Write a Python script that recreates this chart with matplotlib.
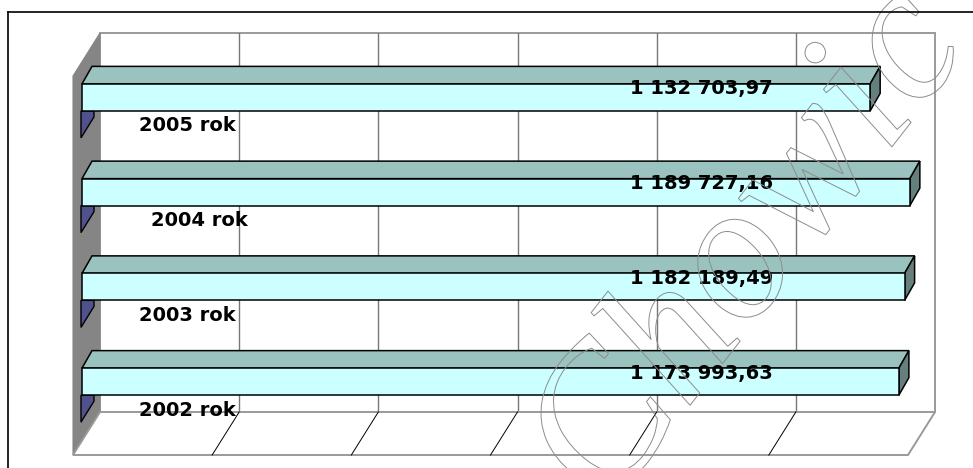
import matplotlib
matplotlib.use("Agg")
import matplotlib.pyplot as plt
import matplotlib.patheffects as pe
from matplotlib.patches import Polygon
from matplotlib.transforms import Affine2D, IdentityTransform
import numpy as np

# ---------------------------------------------------------------------------
# Data
# ---------------------------------------------------------------------------
years = ["2002 rok", "2003 rok", "2004 rok", "2005 rok"]
values = [1173993.63, 1182189.49, 1189727.16, 1132703.97]
value_labels = ["1 173 993,63", "1 182 189,49", "1 189 727,16", "1 132 703,97"]
axis_max = 1200000
axis_step = 200000

# ---------------------------------------------------------------------------
# Styling / pseudo-3D geometry (display pixels, y up)
# ---------------------------------------------------------------------------
W, H = 973, 468
WALL = np.array([-27.0, -43.0])     # back plane -> front of the floor/wall
FRONT = np.array([-18.0, -17.0])    # back plane -> front face of the bars
BACK = np.array([-8.0, 0.5])        # back plane -> back face of the bars
BAR_H = 0.285                       # bar thickness in category units

C_FRONT = "#ccffff"
C_TOP = "#9ac2bf"
C_END = "#657f7d"
C_WALL = "#858585"
C_NAVY = "#51518e"
C_GRID = "#777777"
C_EDGE = "#9a9a9a"

fig = plt.figure(figsize=(W / 100, H / 100), dpi=100)
ax = fig.add_axes([100 / W, (H - 412) / H, 835 / W, 379 / H])
ax.set_xlim(0, axis_max)
ax.set_ylim(-0.5, len(years) - 0.5)
ax.axis("off")

ID = IdentityTransform()


def disp(x, y, off=(0.0, 0.0)):
    p = ax.transData.transform((x, y))
    return (p[0] + off[0], p[1] + off[1])


def poly(pts, fc, ec="black", lw=1.1, z=2):
    ax.add_patch(Polygon(pts, closed=True, facecolor=fc, edgecolor=ec,
                         linewidth=lw, transform=ID, clip_on=False, zorder=z,
                         joinstyle="miter"))


y0, y1 = -0.5, len(years) - 0.5

# back wall
poly([disp(0, y0), disp(axis_max, y0), disp(axis_max, y1), disp(0, y1)],
     "white", C_EDGE, 1.4, 1)
for g in np.arange(axis_step, axis_max, axis_step):
    ax.plot([g, g], [y0, y1], color=C_GRID, lw=1.0, zorder=1.1)

# left wall
poly([disp(0, y1), disp(0, y0), disp(0, y0, WALL), disp(0, y1, WALL)],
     C_WALL, C_WALL, 0.8, 1.2)

# floor
poly([disp(0, y0), disp(axis_max, y0), disp(axis_max, y0, WALL), disp(0, y0, WALL)],
     "white", C_EDGE, 1.4, 1.2)
for g in np.arange(axis_step, axis_max, axis_step):
    a, b = disp(g, y0), disp(g, y0, WALL)
    ax.plot([a[0], b[0]], [a[1], b[1]], color="black", lw=0.7,
            transform=ID, clip_on=False, zorder=1.3)

# bars
for i, v in enumerate(values):
    lo, hi = i - BAR_H / 2, i + BAR_H / 2
    fbl = disp(0, lo, FRONT)
    poly([(fbl[0] - 1, fbl[1]), (fbl[0] + 12, fbl[1]),
          (fbl[0] + 12, fbl[1] - 6), (fbl[0] - 1, fbl[1] - 27)], C_NAVY, "black", 1.0, 1.5)
    poly([disp(0, hi, FRONT), disp(v, hi, FRONT), disp(v, hi, BACK), disp(0, hi, BACK)], C_TOP)
    poly([disp(v, lo, FRONT), disp(v, hi, FRONT), disp(v, hi, BACK), disp(v, lo, BACK)], C_END)
    poly([disp(0, lo, FRONT), disp(v, lo, FRONT), disp(v, hi, FRONT), disp(0, hi, FRONT)], C_FRONT)

# labels
font = dict(family="DejaVu Sans", weight="bold", fontsize=14)
label_dx = [0, 0, 12, 0]
for i, (lab, vl) in enumerate(zip(years, value_labels)):
    ax.text(0, i - 0.48, lab, ha="right", va="center", clip_on=False, zorder=4,
            transform=ax.transData + Affine2D().translate(136 + label_dx[i], 0), **font)
    ax.text(890000, i + BAR_H / 2, vl, ha="center", va="center", clip_on=False, zorder=4,
            transform=ax.transData + Affine2D().translate(FRONT[0], FRONT[1] - 5), **font)

# outer chart frame
fig.add_artist(plt.Line2D([8, W], [H - 12, H - 12], color="black", lw=1.2, transform=ID))
fig.add_artist(plt.Line2D([8, 8], [H - 12, 0], color="black", lw=1.2, transform=ID))

# watermark (outlined script)
ax.text(752, H - 250, "Chowic", transform=ID, rotation=52, ha="center", va="center",
        fontsize=140, family="Liberation Serif", style="italic", color="none",
        clip_on=False, zorder=5,
        path_effects=[pe.Stroke(linewidth=0.7, foreground="#8c8c8c")])

fig.savefig("out.png", dpi=100)
